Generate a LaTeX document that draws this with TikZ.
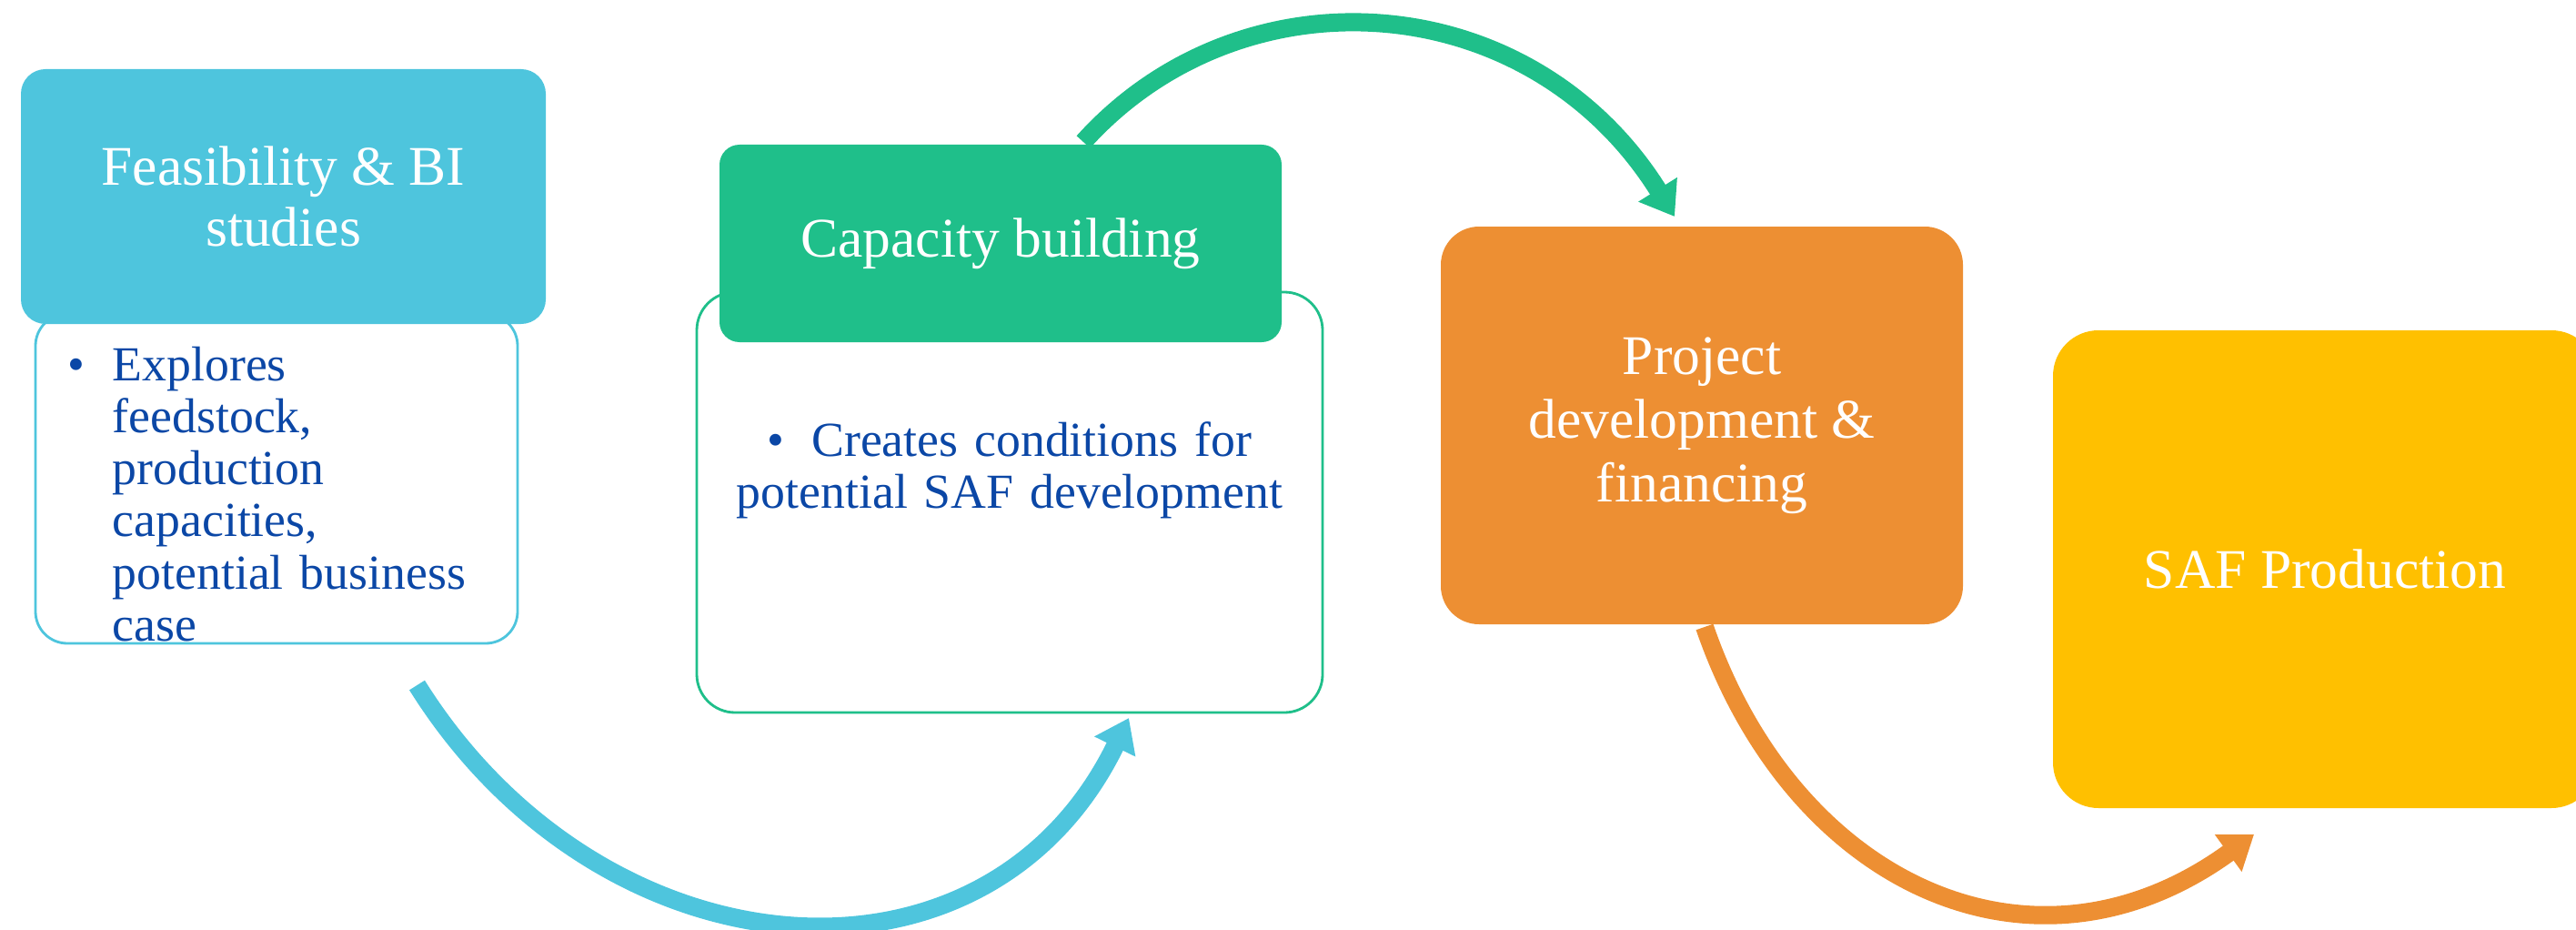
\documentclass[tikz,border=0pt]{standalone}
\usepackage{fontspec}
\setmainfont{Liberation Serif}
\usetikzlibrary{arrows.meta,backgrounds}
\definecolor{cyanA}{HTML}{4EC5DD}
\definecolor{greenB}{HTML}{1FBF8A}
\definecolor{orangeC}{HTML}{ED8F33}
\definecolor{yellowD}{HTML}{FFC000}
\definecolor{bodytxt}{HTML}{0B47A6}
\def\hdfont{\fontsize{17.5}{19.3}\selectfont}
\def\bdfont{\fontsize{15.3}{16.3}\selectfont}
\def\arrw{0.2cm}
\tikzset{
  hd/.style={
    rectangle,draw=none,inner sep=0pt,
    text=white,font=\hdfont,align=center
},
  body/.style={rectangle,inner sep=0pt,fill=white,line width=0.8pt},
  bodytext/.style={inner sep=0pt,text=bodytxt,font=\bdfont},
  flow/.style={line width=\arrw,-{Triangle[length=3.5mm,width=4.8mm]}}
}

\begin{document}
\begin{tikzpicture}[line join=round]
\useasboundingbox (0,0) rectangle (28.32,10.21);
% first step
\node[body,draw=cyanA,rounded corners=0.35cm,minimum width=5.30cm,minimum height=3.62cm] (bodyA) at (3.04,4.95) {};
\node[hd,fill=cyanA,rounded corners=0.27cm,minimum width=5.77cm,minimum height=2.80cm] (hdA) at (3.115,8.05) {Feasibility \& BI\\studies};
\node[bodytext,anchor=base west] (dotA) at (0.74,6.03) {\textbullet};
\node[bodytext,anchor=base west,align=left,text width=4.3cm] (txtA) at (1.23,6.03)
  {Explores\\feedstock,\\production\\capacities,\\potential business\\case};
% second step
\node[body,draw=greenB,rounded corners=0.42cm,minimum width=6.88cm,minimum height=4.62cm] (bodyB) at (11.10,4.69) {};
\node[hd,fill=greenB,rounded corners=0.22cm,minimum width=6.18cm,minimum height=2.17cm] (hdB) at (11.00,7.535) {Capacity building};
\node[bodytext,anchor=base,align=center,text width=6.4cm] (txtB) at (11.10,5.20)
  {\textbullet\hspace{0.55em}Creates conditions for\\potential SAF development};
% third and fourth step
\node[hd,fill=orangeC,rounded corners=0.42cm,minimum width=5.74cm,minimum height=4.37cm,
  font=\fontsize{17.5}{19.9}\selectfont] (boxC) at (18.71,5.535) {Project\\development \&\\financing};
\node[hd,fill=yellowD,rounded corners=0.5cm,minimum width=5.98cm,minimum height=5.25cm] (boxD) at (25.56,3.955) {SAF Production};
% arrows between the steps
\coordinate (arrA-s) at (4.585,2.68);
\coordinate (arrA-e) at (12.41,2.32);
\coordinate (arrB-s) at (11.91,8.65);
\coordinate (arrB-e) at (18.41,7.83);
\coordinate (arrC-s) at (18.74,3.32);
\coordinate (arrC-e) at (24.78,1.04);
\begin{scope}[on background layer]
\draw[flow,cyanA] (arrA-s) .. controls +(-58:3.8) and +(244:3.6) .. (arrA-e);
\draw[flow,greenB] (arrB-s) .. controls +(48:2.6) and +(122:3.0) .. (arrB-e);
\draw[flow,orangeC] (arrC-s) .. controls +(-71:3.0) and +(216:3.0) .. (arrC-e);
\end{scope}
\end{tikzpicture}
\end{document}
